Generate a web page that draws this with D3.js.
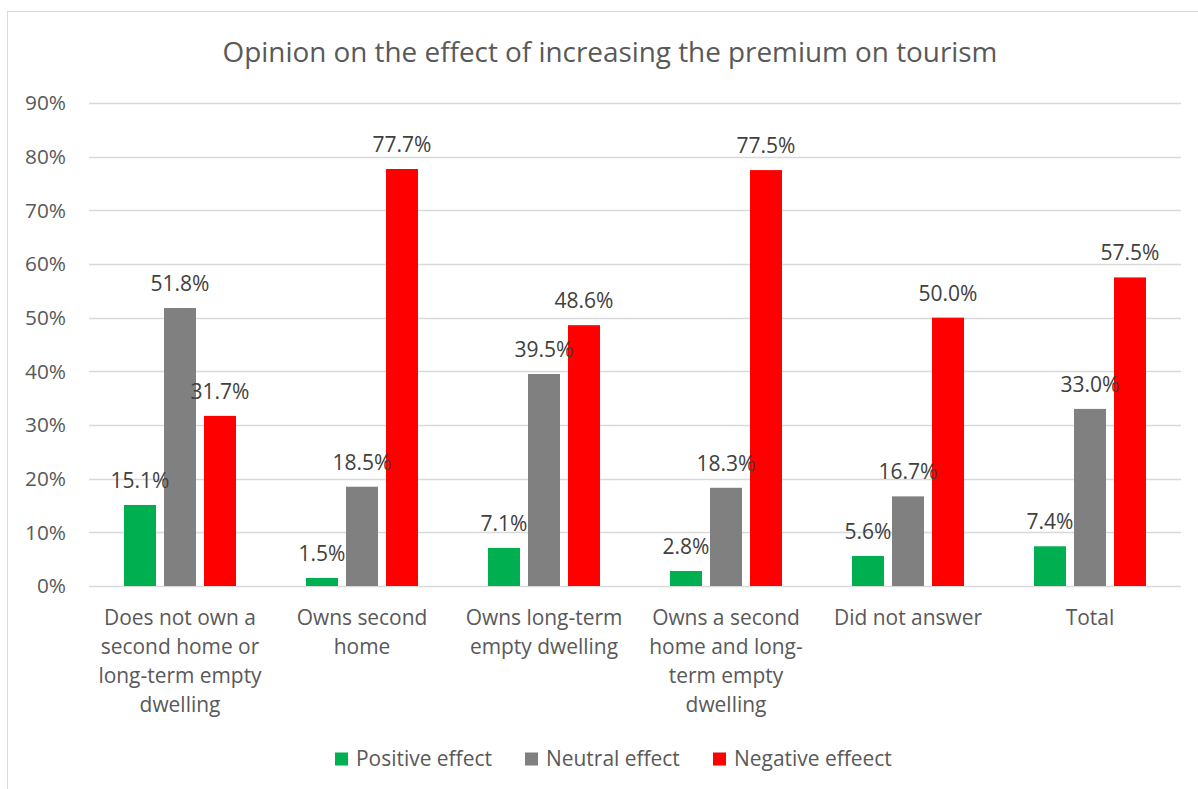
<!DOCTYPE html>
<html><head><meta charset="utf-8">
<script src="https://cdn.jsdelivr.net/npm/d3@7"></script>
<style>body{margin:0;background:#fff}svg{display:block}text{font-family:"Open Sans",sans-serif;fill:#595959}</style>
</head><body>
<script>
const title = "Opinion on the effect of increasing the premium on tourism";
const categories = ["Does not own a second home or long-term empty dwelling","Owns second home","Owns long-term empty dwelling","Owns a second home and long-term empty dwelling","Did not answer","Total"];
const categoryLines = [["Does not own a","second home or","long-term empty","dwelling"],["Owns second","home"],["Owns long-term","empty dwelling"],["Owns a second","home and long-","term empty","dwelling"],["Did not answer"],["Total"]];
const seriesNames = ["Positive effect","Neutral effect","Negative effeect"];
const positive = [15.1, 1.5, 7.1, 2.8, 5.6, 7.4];
const neutral  = [51.8, 18.5, 39.5, 18.3, 16.7, 33.0];
const negative = [31.7, 77.7, 48.6, 77.5, 50.0, 57.5];
const yTicks = [0,10,20,30,40,50,60,70,80,90];
const colors = ["#00B050","#808080","#FF0000"];

const W=1198,H=789;
const svg=d3.select("body").append("svg").attr("width",W).attr("height",H);
svg.append("rect").attr("x",7.5).attr("y",11.5).attr("width",1300).attr("height",900).attr("fill","#fff").attr("stroke","#D9D9D9");

function fit(str,target){
  const t=svg.append("text").style("font-size","100px").text(str);
  const w=t.node().getComputedTextLength(); t.remove();
  return 100*target/w;
}
const titleSize=fit(title,775);
const labelSize=fit("15.1%",59);
const tickSize=fit("90%",41);
const catSize=fit("Does not own a",152);
const legSize=fit("Positive effect",136);

const series=[positive,neutral,negative];
const x0=d3.scaleBand().domain(d3.range(categories.length)).range([89,1181]).paddingInner(70/182).paddingOuter(35/182);
const x1=d3.scaleBand().domain(d3.range(3)).range([0,x0.bandwidth()]).paddingInner(0.2);
const y=d3.scaleLinear().domain([0,90]).range([586,103]);

svg.append("text").attr("x",610).attr("y",62).attr("text-anchor","middle").style("font-size",titleSize+"px").text(title);

const grid=svg.append("g");
grid.selectAll("line").data(yTicks).join("line")
  .attr("x1",89).attr("x2",1181).attr("y1",d=>Math.round(y(d))+0.5).attr("y2",d=>Math.round(y(d))+0.5)
  .attr("stroke","#D9D9D9").attr("stroke-width",1.5);
grid.selectAll("text").data(yTicks).join("text")
  .attr("x",66).attr("y",d=>y(d)).attr("dy","0.35em").attr("text-anchor","end")
  .style("font-size",tickSize+"px").text(d=>d+"%");

const bars=[];
series.forEach((s,si)=>s.forEach((v,ci)=>bars.push({si,ci,v})));
svg.append("g").selectAll("rect").data(bars).join("rect")
  .attr("x",d=>x0(d.ci)+x1(d.si)).attr("width",x1.bandwidth())
  .attr("y",d=>y(d.v)).attr("height",d=>y(0)-y(d.v)).attr("fill",d=>colors[d.si]);
svg.append("g").selectAll("text").data(bars).join("text")
  .attr("x",d=>x0(d.ci)+x1(d.si)+x1.bandwidth()/2).attr("y",d=>y(d.v)-17)
  .attr("text-anchor","middle").style("font-size",labelSize+"px").style("fill","#404040").text(d=>d.v.toFixed(1)+"%");

const cat=svg.append("g");
categoryLines.forEach((lines,ci)=>{
  const t=cat.append("text").attr("text-anchor","middle").style("font-size",catSize+"px");
  lines.forEach((l,i)=>t.append("tspan").attr("x",x0(ci)+x0.bandwidth()/2).attr("y",618+i*29).attr("dy","0.35em").text(l));
});

const legX=[335,525,713];
const leg=svg.append("g");
seriesNames.forEach((n,i)=>{
  leg.append("rect").attr("x",legX[i]).attr("y",752.5).attr("width",13).attr("height",13).attr("fill",colors[i]);
  leg.append("text").attr("x",legX[i]+21).attr("y",759).attr("dy","0.35em").style("font-size",legSize+"px").text(n);
});
</script>
</body></html>
